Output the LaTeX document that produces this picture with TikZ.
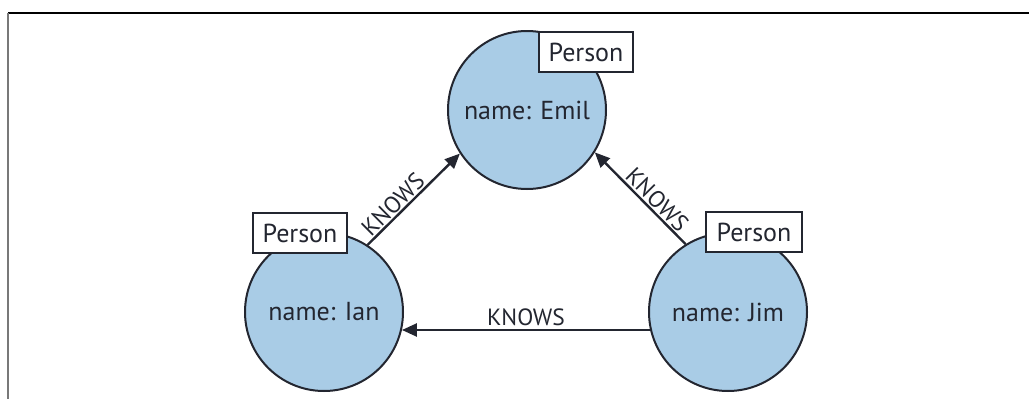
\documentclass[tikz,border=0pt]{standalone}
\usepackage{fontspec}
\setmainfont{PT Sans}
\usetikzlibrary{arrows.meta,calc}
\definecolor{nodefill}{RGB}{169,204,230}
\definecolor{ink}{RGB}{35,38,48}
\definecolor{framegray}{RGB}{120,120,120}
\begin{document}
\begin{tikzpicture}[x=1pt,y=-1pt,
  person/.style={circle,draw=ink,line width=2pt,fill=nodefill,
    minimum size=158pt,inner sep=0pt,text=ink,
    font=\fontsize{26}{31}\selectfont},
  labelbox/.style={rectangle,draw=ink,line width=2pt,fill=white,
    minimum width=94pt,minimum height=40pt,inner sep=0pt,text=ink,
    font=\fontsize{26}{31}\selectfont},
  rel/.style={line width=2.4pt,draw=ink,
    -{Triangle[length=15pt,width=13pt]}},
  rellabel/.style={text=ink,font=\fontsize{23.5}{28}\selectfont,inner sep=1.5pt}]
  \useasboundingbox (0,0) rectangle (1029,399);
  % frame edges
  \draw[line width=2pt,black] (8,13) -- (1029,13);
  \draw[line width=2.5pt,framegray] (8,13) -- (8,399);

  % people
  \node[person] (emil) at (527,110) {\raisebox{-3pt}{name: Emil}};
  \node[person] (ian)  at (324,312) {\raisebox{-2pt}{name: Ian}};
  \node[person] (jim)  at (728,312) {name: Jim};

  % relationships
  \draw[rel] (ian.57) -- node[rellabel,pos=0.36,sloped,above] {KNOWS} (emil.213);
  \draw[rel] (jim.122) -- node[rellabel,pos=0.40,sloped,above] {KNOWS} (emil.-32);
  \draw[rel] (jim.193) -- node[rellabel,midway,above,inner sep=3pt] {KNOWS} (ian.-13);

  % labels
  \node[labelbox] (emiltag) at (586,52) {Person};
  \node[labelbox] (iantag)  at (300,233) {Person};
  \node[labelbox,minimum width=96pt] (jimtag) at (754,232) {Person};
\end{tikzpicture}
\end{document}
